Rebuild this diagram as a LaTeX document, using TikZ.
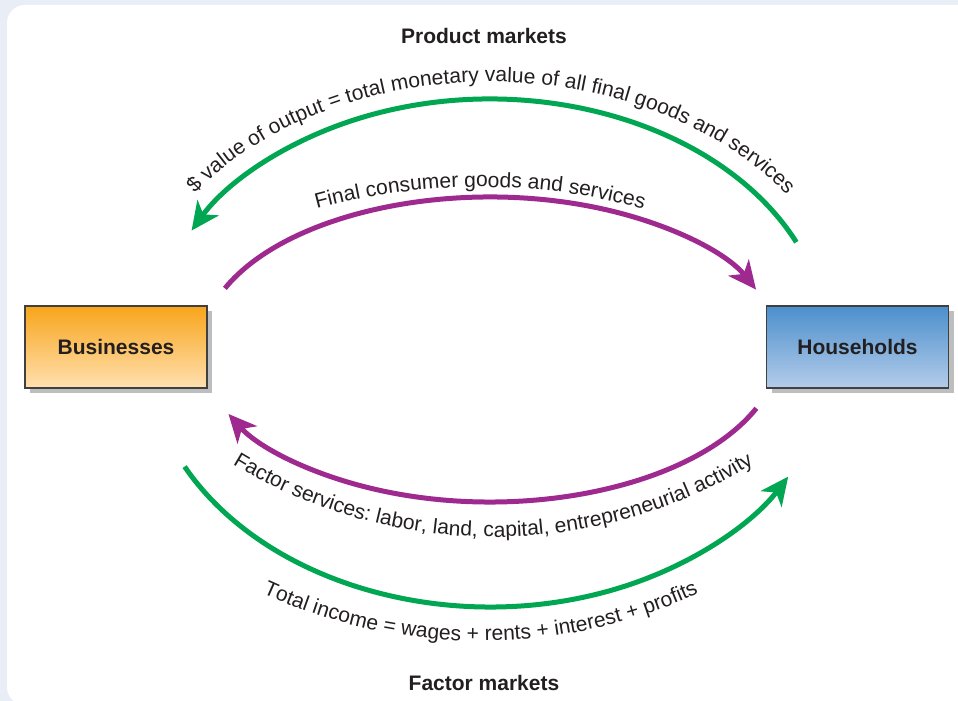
\documentclass[tikz,border=0pt]{standalone}
\usepackage{fontspec}
\setmainfont{Liberation Sans}
\usetikzlibrary{arrows.meta,calc,decorations.text,shadows}

\definecolor{moneygreen}{HTML}{00A651}
\definecolor{goodspurple}{HTML}{9E2A8F}
\definecolor{inkgray}{HTML}{231F20}
\definecolor{panelbg}{HTML}{E9EDF6}
\definecolor{shadowgray}{HTML}{BCBEC0}

\newcommand{\arcfont}{\fontsize{10.5}{12.5}\selectfont}

\tikzset{
  sector/.style={draw=black!75, line width=0.6pt, minimum width=91pt, minimum height=41pt,
    font=\fontsize{10.5}{12}\selectfont\bfseries, text=inkgray,
    drop shadow={shadow xshift=2.5pt, shadow yshift=-2.5pt, fill=shadowgray, opacity=1}},
  market/.style={font=\fontsize{10.5}{12}\selectfont\bfseries, text=inkgray},
  flow/.style={line width=2.5pt, -{Stealth[length=14pt,width=13pt,inset=4pt]}},
  along/.style={decorate, decoration={text along path, text align=center,
    text color=inkgray, text={|\arcfont|#1}}},
}

\begin{document}
\begin{tikzpicture}[x=0.5pt,y=0.5pt]
\useasboundingbox (0,0) rectangle (958,701);
\fill[panelbg] (0,0) rectangle (958,701);
\begin{scope}
\clip (0,0) rectangle (958,701);
\fill[white, rounded corners=9pt] (7,-4) rectangle (990,696);
\end{scope}

\node[sector, top color={rgb,255:red,248;green,165;blue,27}, bottom color={rgb,255:red,255;green,224;blue,176}]
  (biz) at (116,354) {Businesses};
\node[sector, top color={rgb,255:red,75;green,143;blue,204}, bottom color={rgb,255:red,180;green,204;blue,234}]
  (home) at (857.5,354) {Households};

\node[market] (prodmkt) at (484,665) {Product markets};
\node[market] (factmkt) at (484,18) {Factor markets};

\coordinate (hub) at (490,354);
\coordinate (spendR) at ($(hub)+(25:338 and 248)$);
\coordinate (goodsL) at ($(hub)+(157:288 and 150)$);
\coordinate (factorR) at ($(hub)+(-23.3:290 and 155)$);
\coordinate (incomeL) at ($(hub)+(207.4:344 and 260)$);
\coordinate (goodsmid) at (480,-109.6);
\coordinate (factormid) at (493,664.6);
\coordinate (incomemid) at (480.5,582);

% product market flows
\draw[flow, moneygreen] (spendR) arc[start angle=25, end angle=152, x radius=338, y radius=248];
\node[rotate=45.9, anchor=base west, inner sep=0pt, font=\arcfont, text=inkgray]
  (dollar) at ($(hub)+(144.6:362 and 265)$) {\$};
\path[along={value of output = total monetary value of all final goods and services},
  decoration={text align={left, left indent=8.8pt}}]
  ($(hub)+(144.6:362 and 265)$) arc[start angle=144.6, end angle=18, x radius=362, y radius=265];
\draw[flow, goodspurple] (goodsL) arc[start angle=157, end angle=22.5, x radius=288, y radius=150];
\path[along={Final consumer goods and services}]
  ($(goodsmid)+(110:623.6)$) arc[start angle=110, end angle=70, radius=623.6];

% factor market flows
\draw[flow, goodspurple] (factorR) arc[start angle=-23.3, end angle=-154.4, x radius=290, y radius=155];
\path[along={Factor services: labor, land, capital, entrepreneurial activity}]
  ($(factormid)+(230:500.6)$) arc[start angle=230, end angle=310, radius=500.6];
\draw[flow, moneygreen] (incomeL) arc[start angle=207.4, end angle=330.1, x radius=344, y radius=260];
\path[along={Total income = wages + rents + interest + profits}]
  ($(incomemid)+(235:522)$) arc[start angle=235, end angle=305, radius=522];
\end{tikzpicture}
\end{document}
